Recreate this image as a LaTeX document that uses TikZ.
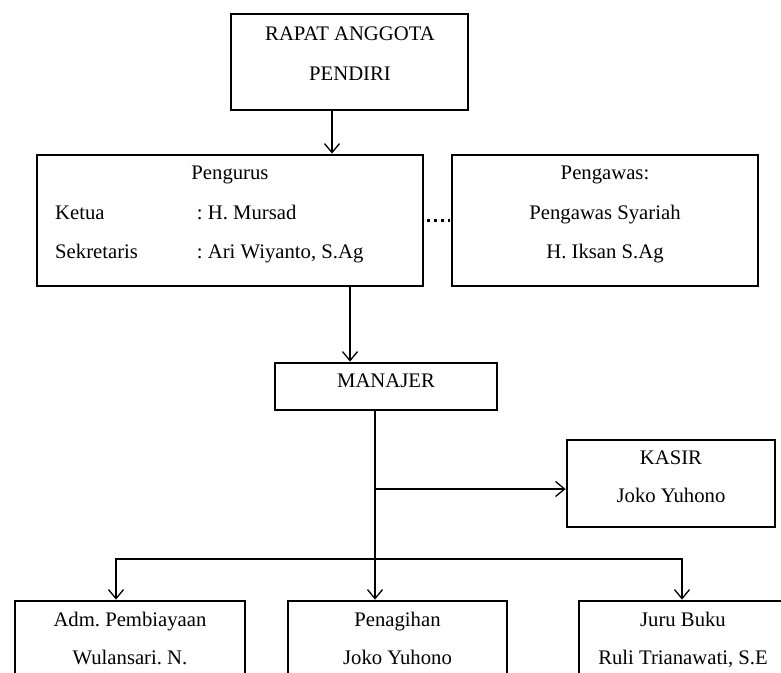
\documentclass[tikz,border=0pt]{standalone}
\usepackage{fontspec}
\setmainfont{Liberation Serif}
\usetikzlibrary{arrows.meta}
\frenchspacing

\begin{document}
\begin{tikzpicture}[x=1pt, y=-1pt,
  kotak/.style={draw, line width=2.8pt, inner sep=0pt},
  teks/.style={font=\fontsize{20.7}{24}\selectfont, inner sep=0pt, anchor=base},
  kiri/.style={teks, anchor=base west},
  panah/.style={line width=1.3pt, -{Straight Barb[length=9pt, width=15pt]}}]
\useasboundingbox (0,0) rectangle (781,672);
\clip (0,0) rectangle (781,672);
% kotak
\node [kotak, minimum width=237pt, minimum height=96pt] (rapat) at (349.5,62) {};
\node [kotak, minimum width=386pt, minimum height=131pt] (pengurus) at (230,220.5) {};
\node [kotak, minimum width=306pt, minimum height=131pt] (pengawas) at (605,220.5) {};
\node [kotak, minimum width=222pt, minimum height=47pt] (manajer) at (386,386.5) {};
\node [kotak, minimum width=208pt, minimum height=87pt] (kasir) at (671,483.5) {};
\node [kotak, minimum width=230pt, minimum height=90pt] (adm) at (130,646) {};
\node [kotak, minimum width=219pt, minimum height=90pt] (penagihan) at (397.5,646) {};
\node [kotak, minimum width=208pt, minimum height=90pt] (juru) at (683,646) {};
% teks
\node [teks] (t1) at (350,40.7) {RAPAT ANGGOTA};
\node [teks] (t2) at (350,80) {PENDIRI};
\node [teks] (t3) at (230,179.3) {Pengurus};
\node [kiri] (t4) at (55,219) {Ketua};
\node [kiri] (t5) at (196.7,219) {: H. Mursad};
\node [kiri] (t6) at (55,258.3) {Sekretaris};
\node [kiri] (t7) at (196.7,258.3) {: Ari Wiyanto, S.Ag};
\node [teks] (t8) at (605,179.3) {Pengawas:};
\node [teks] (t9) at (605,219) {Pengawas Syariah};
\node [teks] (t10) at (605,258.5) {H. Iksan S.Ag};
\node [teks] (t11) at (386,387.3) {MANAJER};
\node [teks] (t12) at (671,464) {KASIR};
\node [teks] (t13) at (671,502.7) {Joko Yuhono};
\node [teks] (t14) at (130,626) {Adm. Pembiayaan};
\node [teks] (t15) at (130,664) {Wulansari. N.};
\node [teks] (t16) at (397.5,626) {Penagihan};
\node [teks] (t17) at (397.5,664) {Joko Yuhono};
\node [teks] (t18) at (683,626) {Juru Buku};
\node [teks] (t19) at (683,664) {Ruli Trianawati, S.E};
% garis
\draw [line width=2.6pt, dash pattern=on 2.6pt off 4.2pt, dash phase=3.8pt] (pengurus.east) -- (pengawas.west);
\coordinate (a1) at (332,110);
\draw [panah] (a1) -- (a1 |- pengurus.north);
\coordinate (b1) at (350,286);
\draw [panah] (b1) -- (b1 |- manajer.north);
\coordinate (c1) at (375,410);
\draw [panah] (c1) -- (c1 |- penagihan.north);
\coordinate (c2) at (375,489);
\draw [panah] (c2) -- (c2 -| kasir.west);
\coordinate (c3) at (375,559);
\coordinate (d1) at (116,559);
\coordinate (d2) at (682,559);
\draw [panah] (c3) -- (d1) -- (d1 |- adm.north);
\draw [panah] (c3) -- (d2) -- (d2 |- juru.north);
\end{tikzpicture}
\end{document}
